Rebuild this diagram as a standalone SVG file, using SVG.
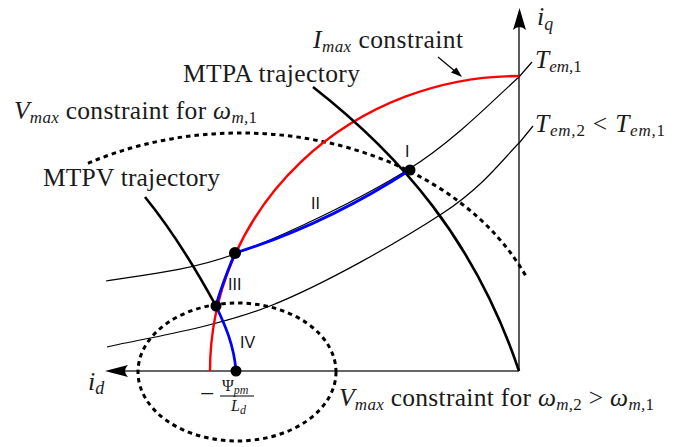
<svg xmlns="http://www.w3.org/2000/svg" width="688" height="447" viewBox="0 0 688 447">
<style>
.t{font-size:25.5px;fill:#1a1a1a}
.m{font-style:italic}
.s{font-size:17px}
.r{font-size:16px;fill:#111}
.ax{stroke:#333;stroke-width:1.6;fill:none}
.thin{stroke:#000;stroke-width:1.2;fill:none}
.thick{stroke:#000;stroke-width:2.6;fill:none}
.dot{stroke:#000;stroke-width:3;fill:none;stroke-dasharray:4.5 4}
.pt{fill:#000}
</style>
<rect width="688" height="447" fill="#fff"/>
<g id="axes">
<line class="ax" x1="519" y1="371" x2="112" y2="371"/>
<path d="M105,371 L128,365 Q122,371 128,377 Z" fill="#000"/>
<line class="ax" x1="519" y1="371" x2="519" y2="14"/>
<path d="M519.5,8 L526,30 Q519.5,24 513,30 Z" fill="#000"/>
</g>
<g id="connectors">
<path id="tem1" class="thin" d="M106,281 C127.5,276.5 184.5,272.7 235,254 C285.5,235.3 361.7,198.5 409,169 C456.3,139.5 498.7,94.7 519,77 L532,62"/>
<path id="tem2" class="thin" d="M107,347 C134.2,340.2 214,328.3 270,306 C326,283.7 401.3,240.3 443,213 C484.7,185.7 505.2,156.3 520,142 L533,126"/>
<path id="vmax1" class="dot" d="M88,163.3 A312,239 0 0,1 527,278"/>
<ellipse id="vmax2" class="dot" cx="237" cy="372" rx="99" ry="69"/>
<path id="imax" d="M519,76 A309,295 0 0,0 210,371" fill="none" stroke="#ff0000" stroke-width="2.4"/>
<path id="mtpa" class="thick" d="M313,87 C400,155 475,240 519,371"/>
<path id="mtpv" class="thick" d="M145,197 Q180,240 216,306"/>
<path id="traj" d="M410,170 Q325,225 235,253 C228,270 220,290 216,306 C225,325 234,345 236,371" fill="none" stroke="#0000ff" stroke-width="2.8"/>
<line x1="438" y1="57" x2="456" y2="72" stroke="#000" stroke-width="1.2"/>
<path d="M462,77 L451,72.5 L456.5,67.5 Z" fill="#000"/>
</g>
<g id="points">
<circle class="pt" cx="410" cy="170" r="5.5"/>
<circle class="pt" cx="235" cy="253" r="6"/>
<circle class="pt" cx="216" cy="306" r="5.5"/>
<circle class="pt" cx="236" cy="371" r="5.5"/>
</g>
<g id="labels" font-family="Liberation Serif, Times New Roman, serif">
<text class="t" font-family="Liberation Serif, serif" x="313" y="48" textLength="150"><tspan class="m">I</tspan><tspan class="m s" dy="4">max</tspan><tspan dy="-4"> constraint</tspan></text>
<text class="t" font-family="Liberation Serif, serif" x="183" y="82" textLength="177">MTPA trajectory</text>
<text class="t" font-family="Liberation Serif, serif" x="14" y="119" textLength="243"><tspan class="m">V</tspan><tspan class="m s" dy="4">max</tspan><tspan dy="-4"> constraint for </tspan><tspan class="m">ω</tspan><tspan class="m s" dy="4">m,</tspan><tspan class="s">1</tspan></text>
<text class="t" font-family="Liberation Serif, serif" x="43" y="186" textLength="177">MTPV trajectory</text>
<text class="t" font-family="Liberation Serif, serif" x="537" y="25" style="font-size:26px"><tspan class="m">i</tspan><tspan class="m" style="font-size:18px" dy="5">q</tspan></text>
<text class="t" font-family="Liberation Serif, serif" x="535" y="68"><tspan class="m">T</tspan><tspan class="m s" dy="4">em,</tspan><tspan class="s">1</tspan></text>
<text class="t" font-family="Liberation Serif, serif" x="535" y="132" textLength="130"><tspan class="m">T</tspan><tspan class="m s" dy="4">em,</tspan><tspan class="s">2</tspan><tspan dy="-4"> &lt; </tspan><tspan class="m">T</tspan><tspan class="m s" dy="4">em,</tspan><tspan class="s">1</tspan></text>
<text class="t" font-family="Liberation Serif, serif" x="88" y="390" style="font-size:26px"><tspan class="m">i</tspan><tspan class="m" style="font-size:18px" dy="4">d</tspan></text>
<text class="t" font-family="Liberation Serif, serif" x="200" y="402">−</text>
<text class="t" font-family="Liberation Serif, serif" x="222" y="391" style="font-size:16px"><tspan>Ψ</tspan><tspan class="m" style="font-size:12px" dy="3">pm</tspan></text>
<line x1="220" y1="396" x2="254" y2="396" stroke="#000" stroke-width="1.2"/>
<text class="t" font-family="Liberation Serif, serif" x="231" y="411" style="font-size:16px"><tspan class="m">L</tspan><tspan class="m" style="font-size:12px" dy="3">d</tspan></text>
<text class="t" font-family="Liberation Serif, serif" x="339" y="406" textLength="315"><tspan class="m">V</tspan><tspan class="m s" dy="4">max</tspan><tspan dy="-4"> constraint for </tspan><tspan class="m">ω</tspan><tspan class="m s" dy="4">m,</tspan><tspan class="s">2</tspan><tspan dy="-4"> &gt; </tspan><tspan class="m">ω</tspan><tspan class="m s" dy="4">m,</tspan><tspan class="s">1</tspan></text>
<text class="r" font-family="Liberation Sans, Arial, sans-serif" x="405" y="157">I</text>
<text class="r" font-family="Liberation Sans, Arial, sans-serif" x="311" y="209">II</text>
<text class="r" font-family="Liberation Sans, Arial, sans-serif" x="228" y="290">III</text>
<text class="r" font-family="Liberation Sans, Arial, sans-serif" x="240" y="348">IV</text>
</g>
</svg>
